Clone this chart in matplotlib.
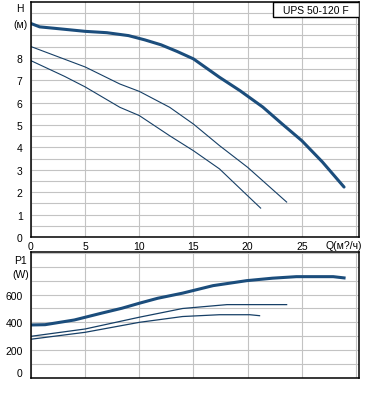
import matplotlib
matplotlib.use("Agg")
import matplotlib.pyplot as plt
from matplotlib.patches import Rectangle

plt.rcParams["font.family"] = ["Liberation Sans", "DejaVu Sans"]
plt.rcParams["font.size"] = 7.5

# --- data ---
# head curves H (m) vs Q (m3/h), three speeds
q_head_hi = [0, 0.8, 2.5, 5, 7, 9, 10.5, 12, 13.5, 15, 17.4, 19.3, 21.4, 23.2, 25, 26.9, 28.9]
h_head_hi = [9.53, 9.38, 9.3, 9.18, 9.12, 8.99, 8.8, 8.58, 8.28, 7.95, 7.13, 6.53, 5.8, 5.04, 4.3, 3.35, 2.23]

q_head_mid = [0, 5, 8.2, 10, 12.8, 15, 17.4, 20, 23.6]
h_head_mid = [8.5, 7.59, 6.83, 6.5, 5.79, 5.04, 4.08, 3.11, 1.56]

q_head_lo = [0, 3.1, 5, 8.2, 10, 12.8, 15, 17.4, 20, 21.2]
h_head_lo = [7.87, 7.17, 6.7, 5.79, 5.42, 4.52, 3.85, 3.04, 1.84, 1.29]

# power curves P1 (W) vs Q
q_pow_hi = [0, 1.3, 4, 6.5, 8.4, 10, 11.7, 14, 16.8, 19.9, 22.3, 24.5, 27.9, 28.9]
p_pow_hi = [381, 383, 417, 466, 502, 538, 574, 611, 665, 701, 719, 730, 730, 721]

q_pow_mid = [0, 5, 10, 14, 18.1, 23.6]
p_pow_mid = [299, 352, 437, 500, 528, 528]

q_pow_lo = [0, 5, 10, 14, 17.4, 20.2, 21.1]
p_pow_lo = [278, 328, 400, 442, 455, 455, 448]

x_ticks = [0, 5, 10, 15, 20, 25]
h_ticks = [0, 1, 2, 3, 4, 5, 6, 7, 8]
p_ticks = [0, 200, 400, 600]
title = "UPS 50-120 F"
q_label = "Q(м?/ч)"

thick_col = "#1b4d7c"
thin_col = "#163f66"
grid_col = "#c3c3c3"

W, H = 371, 414
fig = plt.figure(figsize=(W / 100, H / 100), dpi=100)

ax1 = fig.add_axes([31 / W, 1 - 238 / H, 328 / W, 235 / H])
ax2 = fig.add_axes([31 / W, 1 - 378.7 / H, 328 / W, 125.4 / H])

for ax in (ax1, ax2):
    ax.set_xlim(0, 30.28)
    ax.set_xticks(range(0, 31, 5))
    ax.grid(True, color=grid_col, lw=0.8)
    ax.tick_params(length=0, pad=6, labelsize=7.5)
    for s in ax.spines.values():
        s.set_color("black")
        s.set_linewidth(1.1)
    ax.set_axisbelow(True)

# upper: head
ax1.set_ylim(0, 10.49)
ax1.set_yticks([v / 2 for v in range(0, 21)])
ax1.set_yticklabels([str(v // 2) if v % 2 == 0 and v // 2 in h_ticks else "" for v in range(0, 21)])
ax1.set_xticklabels([str(v) if v in x_ticks else "" for v in range(0, 31, 5)])
ax1.tick_params(axis="x", pad=3)
ax1.text(1.01, -0.034, q_label, transform=ax1.transAxes, ha="right", va="center")
ax1.plot(q_head_hi, h_head_hi, color=thick_col, lw=2.2, solid_capstyle="round")
ax1.plot(q_head_mid, h_head_mid, color=thin_col, lw=0.8)
ax1.plot(q_head_lo, h_head_lo, color=thin_col, lw=0.8)
ax1.text(-0.022, 0.975, "H", transform=ax1.transAxes, ha="right", va="center")
ax1.text(-0.01, 0.905, "(м)", transform=ax1.transAxes, ha="right", va="center")
ax1.add_patch(Rectangle((0.738, 0.936), 0.262, 0.064, transform=ax1.transAxes,
                        facecolor="white", edgecolor="black", lw=1.0, zorder=5))
ax1.text(0.869, 0.968, title, transform=ax1.transAxes, ha="center", va="center", zorder=6)

# lower: power
ax2.set_ylim(0, 906)
ax2.set_yticks(range(0, 901, 100))
ax2.set_yticklabels([str(v) if v in p_ticks else "" for v in range(0, 901, 100)])
ax2.set_xticklabels([])
ax2.get_yticklabels()[0].set_verticalalignment("bottom")
ax2.plot(q_pow_hi, p_pow_hi, color=thick_col, lw=2.2)
ax2.plot(q_pow_mid, p_pow_mid, color=thin_col, lw=0.9)
ax2.plot(q_pow_lo, p_pow_lo, color=thin_col, lw=0.9)
ax2.text(-0.012, 0.94, "P1", transform=ax2.transAxes, ha="right", va="center")
ax2.text(-0.006, 0.83, "(W)", transform=ax2.transAxes, ha="right", va="center")

fig.savefig("out.png", dpi=100)
